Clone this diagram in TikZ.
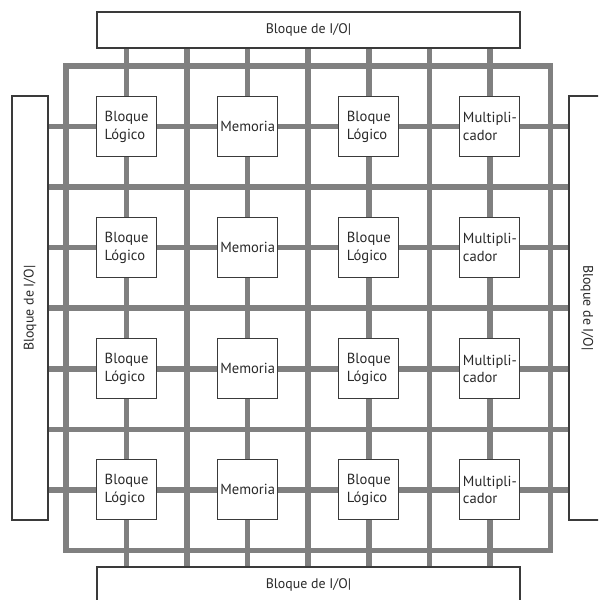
\documentclass[tikz,border=0pt]{standalone}
\usepackage{fontspec}
\setmainfont{PT Sans}
\pgfdeclarelayer{background}
\pgfsetlayers{background,main}
\definecolor{wirecol}{HTML}{808080}
\definecolor{edgecol}{HTML}{3A3A3A}
\definecolor{txtcol}{HTML}{2A2A2A}
\begin{document}
\begin{tikzpicture}[x=1pt,y=-1pt,
  wire/.style={draw=wirecol, line width=5.5pt},
  cell/.style={draw=edgecol, line width=1.1pt, fill=white, minimum width=60pt,
    minimum height=60pt, inner sep=0pt, align=left, text=txtcol,
    font=\fontsize{14.6}{17.7}\selectfont},
  iobox/.style={draw=edgecol, line width=1.1pt, fill=white, inner sep=0pt,
    minimum height=36pt, text=txtcol, font=\fontsize{13.9}{16}\selectfont}]
\useasboundingbox (0,0) rectangle (598,600);
\clip (0,0) rectangle (598,600);

% I/O blocks on the four sides
\node[iobox, minimum width=423pt] (top) at (308.5,30) {Bloque de I/O|};
\node[iobox, minimum width=423pt] (bot) at (308.5,585) {Bloque de I/O|};
\node[iobox, minimum width=424pt, rotate=90] (lft) at (30,308) {Bloque de I/O|};
\node[iobox, minimum width=424pt, rotate=-90] (rgt) at (587,308) {Bloque de I/O|};

% logic, memory and multiplier cells
\foreach \r [count=\j] in {126.6,247.7,368.8,489.9} {
  \node[cell] (b\j1) at (126.6,\r) {Bloque\\Lógico};
  \node[cell] (b\j2) at (247.7,\r) {Memoria};
  \node[cell] (b\j3) at (368.8,\r) {Bloque\\Lógico};
  \node[cell] (b\j4) at (489.9,\r) {Multipli-\\cador};
}

% routing channels behind the cells
\begin{pgfonlayer}{background}
  \coordinate (f1) at (66,66);
  \coordinate (f2) at (550.5,550.5);
  \draw[wire] (f1) rectangle (f2);
  \foreach \i in {1,...,7} {
    \pgfmathsetmacro\p{66+60.56*\i}
    \draw[wire] (top.center -| \p,0) -- (bot.center -| \p,0);
    \draw[wire] (lft.center |- 0,\p) -- (rgt.center |- 0,\p);
  }
\end{pgfonlayer}
\end{tikzpicture}
\end{document}
